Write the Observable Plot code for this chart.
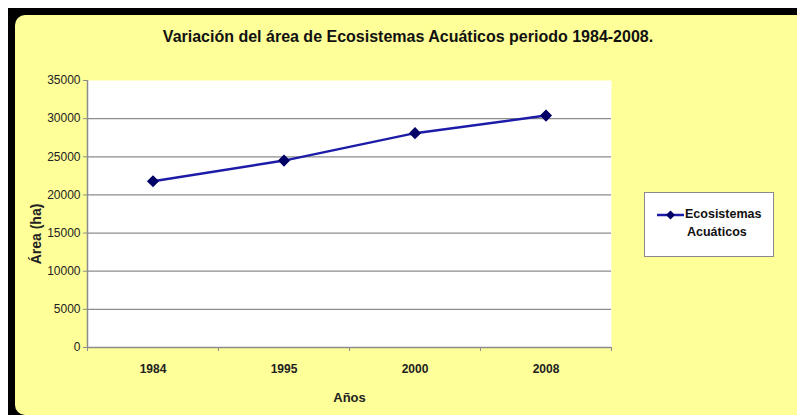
<!DOCTYPE html>
<html>
<head>
<meta charset="utf-8">
<script src="https://cdn.jsdelivr.net/npm/d3@7"></script>
<script src="https://cdn.jsdelivr.net/npm/@observablehq/plot@0.6"></script>
<style>
  html, body { margin: 0; padding: 0; background: #fff; }
  #wrap { position: relative; width: 797px; height: 415px; overflow: hidden; background: #fff; font-family: "Liberation Sans", Arial, sans-serif; }
  #black { position: absolute; left: 8px; top: 8px; width: 789px; height: 407px; background: #000; }
  #panel { position: absolute; left: 15px; top: 15px; width: 782px; height: 400px; background: #FFFF99; border-radius: 10px 0 0 10px; }
  #title { position: absolute; left: 15px; width: 786px; top: 28px; text-align: center; font-weight: bold; font-size: 16px; color: #111; }
  #chart { position: absolute; left: 0; top: 0; }
  #legend { position: absolute; left: 644px; top: 192px; width: 128px; height: 63px; background: #fff; border: 1px solid #8a8a8a; box-sizing: content-box; }
  #legend svg { position: absolute; left: 11px; top: 16px; }
  #legend .t { position: absolute; font-weight: bold; font-size: 12.5px; color: #111; white-space: nowrap; }
</style>
</head>
<body>
<div id="wrap">
  <div id="black"></div>
  <div id="panel"></div>
  <div id="title">Variación del área de Ecosistemas Acuáticos periodo 1984-2008.</div>
  <div id="chart"></div>
  <div id="legend">
    <svg width="30" height="12"><line x1="1" y1="6" x2="28" y2="6" stroke="#1c1ca8" stroke-width="2.5"/><path d="M14.5,1.5 L19,6 L14.5,10.5 L10,6 Z" fill="#000066"/></svg>
    <div class="t" style="left:40px; top:14px;">Ecosistemas</div>
    <div class="t" style="left:42px; top:32px;">Acuáticos</div>
  </div>
</div>
<script>
const years = ["1984", "1995", "2000", "2008"];
const areas = [21800, 24500, 28100, 30400];
const yTicks = [0, 5000, 10000, 15000, 20000, 25000, 30000, 35000];
const gridTicks = [5000, 10000, 15000, 20000, 25000, 30000];

const data = years.map((y, i) => ({i, year: y, area: areas[i]}));
const bounds = d3.range(years.length + 1).map(k => k - 0.5);

const chart = Plot.plot({
  width: 797,
  height: 415,
  marginLeft: 87,
  marginRight: 186,
  marginTop: 80,
  marginBottom: 68,
  style: { background: "transparent", fontFamily: "'Liberation Sans', Arial, sans-serif", color: "#222" },
  x: { domain: [-0.5, years.length - 0.5] },
  y: { domain: [0, 35000] },
  marks: [
    Plot.frame({ fill: "white", stroke: null }),
    Plot.ruleY(gridTicks, { stroke: "#8c8c8c", strokeWidth: 1.2 }),
    Plot.ruleY([0], { stroke: "#8c8c8c", strokeWidth: 1.5 }),
    Plot.ruleX([-0.5], { stroke: "#8c8c8c", strokeWidth: 1.5 }),
    Plot.axisY({ ticks: yTicks, tickSize: 4, tickPadding: 3, tickFormat: d => String(d), fontSize: 12, stroke: "#8c8c8c", fill: "#222", label: "Área (ha)", labelAnchor: "center", labelArrow: "none", labelOffset: 56 }),
    Plot.axisX({ ticks: bounds, tickSize: 4, tickFormat: () => "", stroke: "#8c8c8c", label: null }),
    Plot.axisX({ ticks: d3.range(years.length), tickSize: 0, tickPadding: 17, tickFormat: i => years[i], fontSize: 12, fontWeight: "bold", fill: "#222", label: "Años", labelAnchor: "center", labelArrow: "none", labelOffset: 54 }),
    Plot.line(data, { x: "i", y: "area", stroke: "#1c1ca8", strokeWidth: 2.5 }),
    Plot.dot(data, { x: "i", y: "area", symbol: "diamond2", r: 4.5, fill: "#000066", stroke: "#000066" })
  ]
});
document.getElementById("chart").appendChild(chart);
chart.querySelectorAll("[aria-label='x-axis label'] text").forEach(t => {
  t.setAttribute("font-weight", "bold");
  t.setAttribute("font-size", "13");
  t.setAttribute("fill", "#222");
});
chart.querySelectorAll("[aria-label='y-axis label'] text").forEach(t => {
  t.setAttribute("font-weight", "bold");
  t.setAttribute("font-size", "14");
  t.setAttribute("fill", "#222");
  t.setAttribute("dx", "-20");
});
</script>
</body>
</html>
